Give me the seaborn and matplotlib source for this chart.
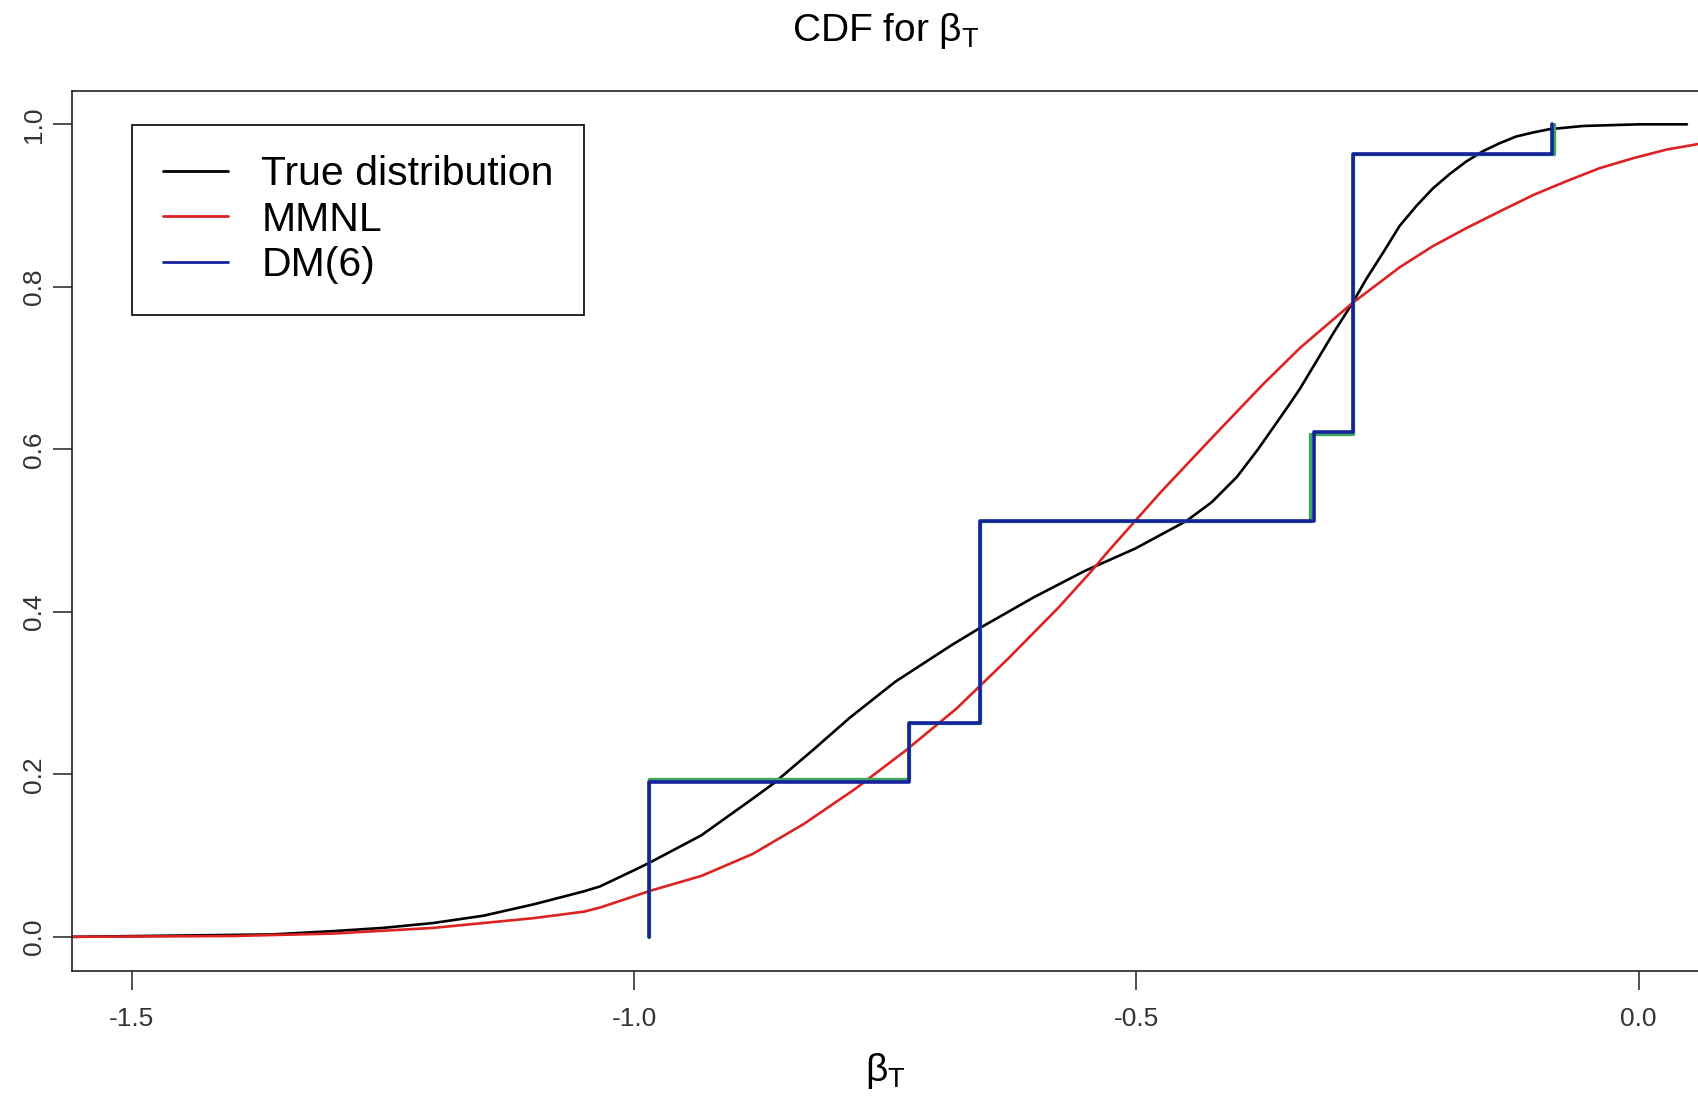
import numpy as np
import pandas as pd
import matplotlib
matplotlib.use("Agg")
import matplotlib.pyplot as plt
import seaborn as sns

# true distribution CDF
true_x = [-1.56, -1.36, -1.30, -1.25, -1.20, -1.15, -1.10, -1.05, -1.034, -1.00, -0.985,
          -0.933, -0.882, -0.861, -0.821, -0.785, -0.740, -0.684, -0.656, -0.602, -0.552,
          -0.501, -0.450, -0.425, -0.400, -0.379, -0.349, -0.337, -0.304, -0.285, -0.271,
          -0.254, -0.238, -0.221, -0.205, -0.188, -0.172, -0.155, -0.138, -0.122, -0.105,
          -0.089, -0.055, 0.0, 0.048]
true_y = [0.0, 0.003, 0.007, 0.011, 0.017, 0.026, 0.040, 0.056, 0.062, 0.082, 0.091,
          0.125, 0.170, 0.189, 0.231, 0.270, 0.314, 0.359, 0.380, 0.418, 0.450,
          0.478, 0.512, 0.535, 0.566, 0.600, 0.653, 0.675, 0.743, 0.780, 0.810,
          0.843, 0.875, 0.900, 0.921, 0.939, 0.954, 0.967, 0.977, 0.985, 0.990,
          0.994, 0.998, 1.0, 1.0]

# MMNL estimate
mmnl_x = [-1.56, -1.40, -1.30, -1.20, -1.10, -1.05, -1.034, -0.983, -0.933, -0.882,
          -0.831, -0.780, -0.730, -0.679, -0.628, -0.577, -0.547, -0.527, -0.476, -0.425,
          -0.374, -0.337, -0.285, -0.238, -0.205, -0.172, -0.138, -0.105, -0.072, -0.039,
          -0.005, 0.028, 0.065]
mmnl_y = [0.0, 0.001, 0.004, 0.011, 0.023, 0.031, 0.036, 0.057, 0.075, 0.102,
          0.139, 0.182, 0.229, 0.281, 0.342, 0.406, 0.447, 0.476, 0.547, 0.614,
          0.680, 0.725, 0.780, 0.824, 0.850, 0.872, 0.893, 0.913, 0.930, 0.946,
          0.9585, 0.969, 0.977]

# DM(6) step function
dm_x = [-0.985, -0.985, -0.726, -0.656, -0.323, -0.284, -0.0862]
dm_y = [0.0, 0.190, 0.263, 0.512, 0.621, 0.963, 1.0]

# second (green) step underneath, nearly identical
dm2_x = [-0.985, -0.985, -0.726, -0.656, -0.327, -0.284, -0.0845]
dm2_y = [0.0, 0.194, 0.263, 0.512, 0.619, 0.963, 1.0]

x_ticks = [-1.5, -1.0, -0.5, 0.0]
x_labels = ["-1.5", "-1.0", "-0.5", "0.0"]
y_ticks = [0.0, 0.2, 0.4, 0.6, 0.8, 1.0]
y_labels = ["0.0", "0.2", "0.4", "0.6", "0.8", "1.0"]

sns.set_style("ticks")
plt.rcParams['font.family'] = ['Liberation Sans', 'DejaVu Sans']
plt.rcParams['mathtext.fontset'] = 'custom'
plt.rcParams['mathtext.rm'] = 'Liberation Sans'
plt.rcParams['mathtext.it'] = 'Liberation Sans'
plt.rcParams['mathtext.bf'] = 'Liberation Sans:bold'
plt.rcParams['axes.unicode_minus'] = False
plt.rcParams['text.color'] = 'black'
plt.rcParams['axes.labelcolor'] = 'black'

fig = plt.figure(figsize=(16.99, 10.98), dpi=100)
ax = fig.add_axes([0.0421, 0.1157, 0.9579, 0.8014])

common = dict(ax=ax, sort=False, estimator=None, errorbar=None)
sns.lineplot(x=true_x, y=true_y, color='black', lw=1.9, label='True distribution', **common)
sns.lineplot(x=mmnl_x, y=mmnl_y, color='#dd2222', lw=1.9, label='MMNL', **common)
sns.lineplot(x=dm2_x, y=dm2_y, color='#3aa860', lw=2.4, drawstyle='steps-post',
             legend=False, **common)
sns.lineplot(x=dm_x, y=dm_y, color='#15229c', lw=2.6, drawstyle='steps-post',
             label='DM(6)', **common)

ax.set_xlim(-1.56, 0.06)
ax.set_ylim(-0.042, 1.041)
ax.set_xticks(x_ticks)
ax.set_xticklabels(x_labels)
ax.set_yticks(y_ticks)
ax.set_yticklabels(y_labels, rotation=90, va='center')

ax.tick_params(axis='both', direction='out', length=14, width=1.1,
               labelsize=19, labelcolor='#333333', color='#222222')
ax.tick_params(axis='x', pad=12)
ax.tick_params(axis='y', pad=4.5)
for s in ax.spines.values():
    s.set_color('#222222')
    s.set_linewidth(1.2)

ax.set_title(r'CDF for $\beta_{T}$', fontsize=28, pad=36)
ax.set_xlabel(r'$\beta_{T}$', fontsize=28, labelpad=14)
ax.set_ylabel('')

leg = ax.legend(loc='upper left', bbox_to_anchor=(0.0372, 0.9618), borderaxespad=0,
                fontsize=29.5, frameon=True, fancybox=False, framealpha=1,
                edgecolor='black', handlelength=1.6, handletextpad=0.8,
                borderpad=0.75, labelspacing=0.18)
leg.get_frame().set_linewidth(1.2)
for line in leg.get_lines():
    line.set_linewidth(2.0)

fig.savefig("out.png", dpi=100)
